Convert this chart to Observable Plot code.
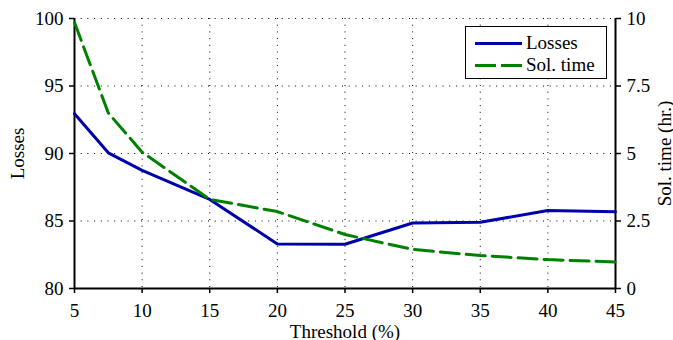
<!DOCTYPE html>
<html><head><meta charset="utf-8">
<style>
body{margin:0;background:#fff;font-family:"Liberation Serif","Times New Roman",serif}
#wrap{position:relative;width:673px;height:340px;font-family:"Liberation Serif","Times New Roman",serif}
#wrap svg, #wrap svg text{font-family:"Liberation Serif","Times New Roman",serif !important}
#legend{position:absolute;left:465px;top:26px;width:142px;height:53px;border:1px solid #000;background:#fff;box-sizing:border-box;z-index:2;font-size:19px;line-height:22.5px}
.row{position:absolute;left:0;height:22.5px;white-space:nowrap}
.sw{position:absolute;left:9px;width:47px;height:0}
.lab{position:absolute;left:60px;top:-11.25px;line-height:22.5px}
</style>
<script src="https://cdn.jsdelivr.net/npm/d3@7"></script>
<script src="https://cdn.jsdelivr.net/npm/@observablehq/plot@0.6"></script>
</head><body>
<div id="wrap">
  <div id="legend">
    <div class="row" style="top:16px"><div class="sw" id="sw0"></div><span class="lab">Losses</span></div>
    <div class="row" style="top:38.5px"><div class="sw" id="sw1"></div><span class="lab">Sol. time</span></div>
  </div>
</div>
<script>
const threshold = [5, 7.5, 10, 15, 20, 25, 30, 35, 40, 45];
const losses = [92.95, 90.05, 88.75, 86.6, 83.3, 83.28, 84.85, 84.9, 85.78, 85.68];
const solTime = [9.85, 6.5, 5.05, 3.3, 2.85, 2.0, 1.45, 1.22, 1.07, 0.98];
const xTicks = [5, 10, 15, 20, 25, 30, 35, 40, 45];
const lossTicks = [80, 85, 90, 95, 100];
const timeTicks = [0, 2.5, 5, 7.5, 10];
const colors = ["#0000aa", "#008000"];

const toLeft = d3.scaleLinear().domain([0, 10]).range([80, 100]);
const lossData = threshold.map((t, i) => ({t, v: losses[i]}));
const timeData = threshold.map((t, i) => ({t, v: toLeft(solTime[i])}));
const gridXv = xTicks.slice(1, -1);
const gridYv = lossTicks.slice(1);

const font = "Liberation Serif";
const chart = Plot.plot({
  width: 673, height: 340,
  marginLeft: 74, marginRight: 58, marginTop: 18, marginBottom: 52,
  style: {fontFamily: font, fontSize: "19px", color: "#000", background: "transparent", overflow: "visible"},
  x: {domain: [5, 45]},
  y: {domain: [80, 100]},
  marks: [
    Plot.gridX(gridXv, {stroke: "#000", strokeOpacity: 1, strokeWidth: 1, strokeDasharray: "1,5.7"}),
    Plot.gridY(gridYv, {stroke: "#000", strokeOpacity: 1, strokeWidth: 1, strokeDasharray: "1,5.7"}),
    Plot.axisX(xTicks, {anchor: "bottom", tickSize: 5, tickPadding: 10, strokeWidth: 1.5, fontFamily: font,
      label: "Threshold (%)", labelAnchor: "center", labelArrow: "none", labelOffset: 49}),
    Plot.axisY(lossTicks, {anchor: "left", tickSize: 5, tickPadding: 6, strokeWidth: 1.5, fontFamily: font,
      label: "Losses", labelAnchor: "center", labelArrow: "none", labelOffset: 64}),
    Plot.axisY(timeTicks.map(toLeft), {anchor: "right", tickSize: 5, tickPadding: 6, strokeWidth: 1.5, fontFamily: font,
      tickFormat: d => String(toLeft.invert(d)),
      label: "Sol. time (hr.)", labelAnchor: "center", labelArrow: "none", labelOffset: 55}),
    Plot.ruleX([xTicks[0], xTicks[xTicks.length - 1]], {strokeWidth: 2}),
    Plot.ruleY([lossTicks[0]], {strokeWidth: 2}),
    Plot.line(lossData, {x: "t", y: "v", stroke: colors[0], strokeWidth: 3}),
    Plot.line(timeData, {x: "t", y: "v", stroke: colors[1], strokeWidth: 3, strokeDasharray: "19,7"})
  ]
});
const wrap = document.getElementById("wrap");
wrap.insertBefore(chart, wrap.firstChild);

document.getElementById("sw0").style.borderTop = `3px solid ${colors[0]}`;
document.getElementById("sw0").style.top = "-1.5px";
const sw1 = document.getElementById("sw1");
sw1.style.top = "-1.5px";
sw1.style.height = "3px";
sw1.style.background = `repeating-linear-gradient(to right, ${colors[1]} 0 21.5px, transparent 21.5px 26.5px)`;
</script>
</body></html>
